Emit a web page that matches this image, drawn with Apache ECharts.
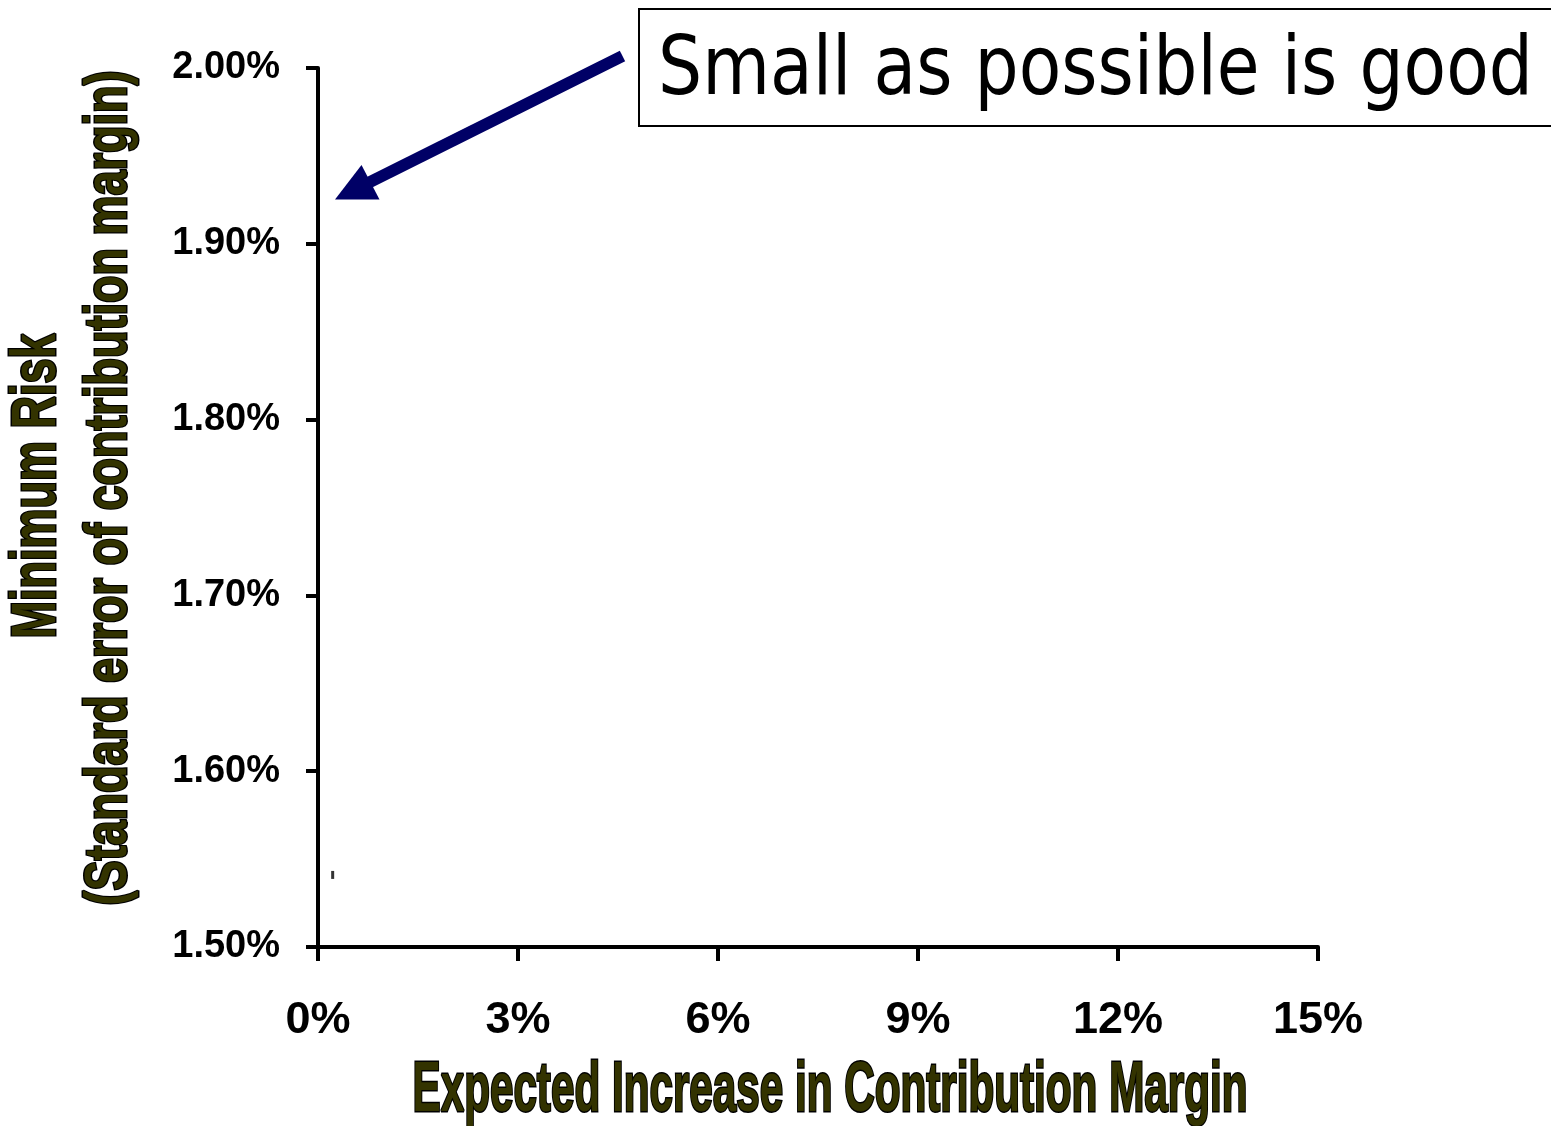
<!DOCTYPE html>
<html>
<head>
<meta charset="utf-8">
<script src="https://cdn.jsdelivr.net/npm/echarts@6/dist/echarts.min.js"></script>
<style>
  html, body { margin: 0; padding: 0; background: #fff; }
  #chart { width: 1551px; height: 1126px; }
</style>
</head>
<body>
<div id="chart"></div>
<script>
// Axis settings
const xTicks = [0, 3, 6, 9, 12, 15];          // expected increase, %
const yTicks = [1.5, 1.6, 1.7, 1.8, 1.9, 2.0]; // minimum risk, %

// Observed portfolio point: [expected increase %, standard error %]
const riskPoints = [[0.22, 1.541]];

const xTitle = 'Expected Increase in Contribution Margin';
const yTitleLines = ['Minimum Risk', '(Standard error of contribution margin)'];
const noteText = 'Small as possible is good';

const TITLE_FONT = '"Liberation Sans Narrow", "Liberation Sans", Arial, sans-serif';
const NOTE_FONT = 'Tahoma, "DejaVu Sans", sans-serif';

const measureCtx = document.createElement('canvas').getContext('2d');
function textWidth(font, text) {
  measureCtx.font = font;
  return measureCtx.measureText(text).width;
}

// Bold condensed axis title fitted to a target length and cap height
function axisTitle(text, cx, cy, length, capHeight, rotation) {
  const size = Math.round(capHeight / 0.716);
  const font = 'bold ' + size + 'px ' + TITLE_FONT;
  const w = textWidth(font, text);
  return {
    type: 'text',
    x: cx, y: cy,
    rotation: rotation || 0,
    scaleX: length / w,
    z: 10,
    style: {
      text: text,
      font: font,
      fill: '#333300',
      stroke: '#000000',
      lineWidth: 3,
      strokeFirst: true,
      align: 'center',
      verticalAlign: 'middle'
    }
  };
}

function noteLabel() {
  const size = 82;
  const font = size + 'px ' + NOTE_FONT;
  const w = textWidth(font, noteText);
  return {
    type: 'text',
    x: 658, y: 73,
    scaleX: 875 / w,
    z: 11,
    style: {
      text: noteText,
      font: font,
      fill: '#000000',
      align: 'left',
      verticalAlign: 'middle'
    }
  };
}

const chart = echarts.init(document.getElementById('chart'), null, { renderer: 'canvas' });

const option = {
  backgroundColor: '#ffffff',
  animation: false,
  grid: { left: 318, right: 233, top: 68, bottom: 179 },
  xAxis: {
    type: 'value',
    min: xTicks[0],
    max: xTicks[xTicks.length - 1],
    interval: xTicks[1] - xTicks[0],
    axisLine: { show: true, onZero: false, lineStyle: { color: '#000', width: 4 } },
    axisTick: { show: true, length: 14, lineStyle: { color: '#000', width: 4 } },
    splitLine: { show: false },
    axisLabel: {
      margin: 51,
      color: '#000',
      fontFamily: '"Liberation Sans", Arial, sans-serif',
      fontWeight: 'bold',
      fontSize: 45,
      formatter: v => Math.round(v) + '%'
    }
  },
  yAxis: {
    type: 'value',
    min: yTicks[0],
    max: yTicks[yTicks.length - 1],
    interval: 0.1,
    axisLine: { show: true, onZero: false, lineStyle: { color: '#000', width: 4 } },
    axisTick: { show: true, length: 12, lineStyle: { color: '#000', width: 4 } },
    splitLine: { show: false },
    axisLabel: {
      margin: 38,
      color: '#000',
      fontFamily: '"Liberation Sans", Arial, sans-serif',
      fontWeight: 'bold',
      fontSize: 38,
      formatter: v => v.toFixed(2) + '%'
    }
  },
  series: [{
    type: 'scatter',
    data: riskPoints,
    symbol: 'rect',
    symbolSize: [3, 8],
    itemStyle: { color: '#000' },
    silent: true
  }],
  graphic: [
    axisTitle(xTitle, 830, 1091, 835, 51, 0),
    axisTitle(yTitleLines[0], 38, 486, 305, 45, Math.PI / 2),
    axisTitle(yTitleLines[1], 109, 488, 835, 43, Math.PI / 2),
    // callout box
    {
      type: 'rect',
      shape: { x: 639, y: 9, width: 1000, height: 117 },
      z: 10,
      style: { fill: '#ffffff', stroke: '#000000', lineWidth: 2 }
    },
    noteLabel(),
    // callout arrow pointing at the low end of the risk axis
    {
      type: 'line',
      shape: { x1: 622.5, y1: 56, x2: 366, y2: 184 },
      z: 10,
      style: { stroke: '#000066', lineWidth: 12, lineCap: 'butt' }
    },
    {
      type: 'polygon',
      shape: { points: [[335, 199.5], [361.5, 165], [379.5, 199.5]] },
      z: 10,
      style: { fill: '#000066' }
    }
  ]
};

chart.setOption(option);
</script>
</body>
</html>
